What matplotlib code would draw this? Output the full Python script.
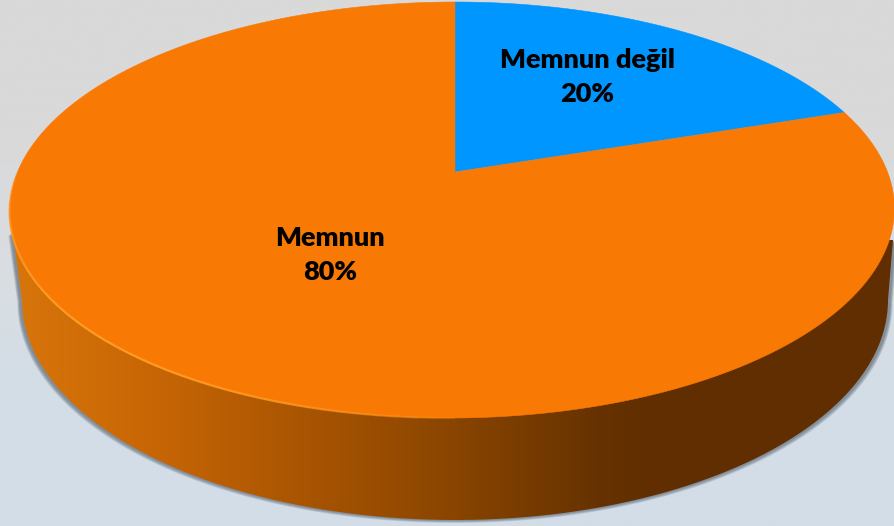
import numpy as np
import matplotlib
matplotlib.use("Agg")
import matplotlib.pyplot as plt
from matplotlib.colors import LinearSegmentedColormap
from matplotlib.path import Path
from matplotlib.patches import PathPatch

labels = ["Memnun değil", "Memnun"]
values = [20, 80]
colors = ["#0096ff", "#f97905"]
label_pos = [(587, 77), (330, 255)]

W, H = 894, 526


# flat circle -> picture, the 3d look is only a perspective map
def top_map(a):
    X, Y = np.cos(a), np.sin(a)
    den = 1 + 0.1827 * Y + 0.0068 * X
    return 455 + 435 * X / den, (172 - 169.63 * Y) / den


def bottom_map(a):
    return 455 + 433 * np.cos(a), 300 + 220 * np.sin(a)


fig = plt.figure(figsize=(W / 100, H / 100), dpi=100)
ax = fig.add_axes([0, 0, 1, 1])
ax.set_xlim(0, W)
ax.set_ylim(H, 0)
ax.axis("off")

# background
bg = LinearSegmentedColormap.from_list("bg", ["#d9d9d9", "#d9d9d9", "#d9dde1", "#d3dde7", "#d2dde8"])
ax.imshow(np.linspace(0, 1, 256).reshape(-1, 1), cmap=bg, extent=[0, W, H, 0], aspect="auto", zorder=0)

# side wall outline
t = np.linspace(np.pi, 0, 300)
bx, by = bottom_map(t)
side_x = np.r_[13, bx, 893]
side_y = np.r_[233, by, 240]

# thin soft shadow along the wall
sx = 455 + (side_x - 455) * 1.004
for i in range(4, 0, -1):
    ax.fill(sx + np.sign(sx - 455) * i * 0.7, side_y + i * 0.7, color="#4d5966", alpha=0.2, lw=0, zorder=1)

side = PathPatch(Path(np.c_[side_x, side_y]), fc="none", ec="none", zorder=2)
ax.add_patch(side)
wall = LinearSegmentedColormap.from_list("wall", [(0, "#d8750a"), (0.155, "#c86605"), (0.325, "#aa5502"),
                                                  (0.47, "#8f4800"), (0.665, "#673200"), (0.71, "#612f00"),
                                                  (1, "#602e00")])
im = ax.imshow(np.linspace(0, 1, 512).reshape(1, -1), cmap=wall, extent=[13, 894, H, 0], aspect="auto", zorder=2)
im.set_clip_path(side)
ax.set_xlim(0, W)
ax.set_ylim(H, 0)

# top surface, slices start at 12 o'clock and go clockwise
start = np.pi / 2
for val, col in zip(values, colors):
    sweep = 2 * np.pi * val / sum(values)
    a = np.linspace(start, start - sweep, 300)
    x, y = top_map(a)
    ax.fill(np.r_[455, x], np.r_[172, y], color=col, lw=0.4, ec=col, zorder=3)
    start -= sweep

# light rim on the front left edge, fades out at both ends
rim = np.radians(np.linspace(178, 272, 48))
for a0, a1, f in zip(rim[:-1], rim[1:], np.sin(np.linspace(0, np.pi, 47)) ** 0.6):
    x, y = top_map(np.array([a0, a1]))
    ax.plot(x, y, color="#ff9c24", lw=1.6, alpha=f, zorder=4, solid_capstyle="butt")

for name, val, (lx, ly) in zip(labels, values, label_pos):
    ax.text(lx, ly, "%s\n%d%%" % (name, val), ha="center", va="center", fontsize=19.5, family="Lato",
            fontweight="heavy", color="#000000", linespacing=1.48, zorder=5)

fig.savefig("out.png", dpi=100)
